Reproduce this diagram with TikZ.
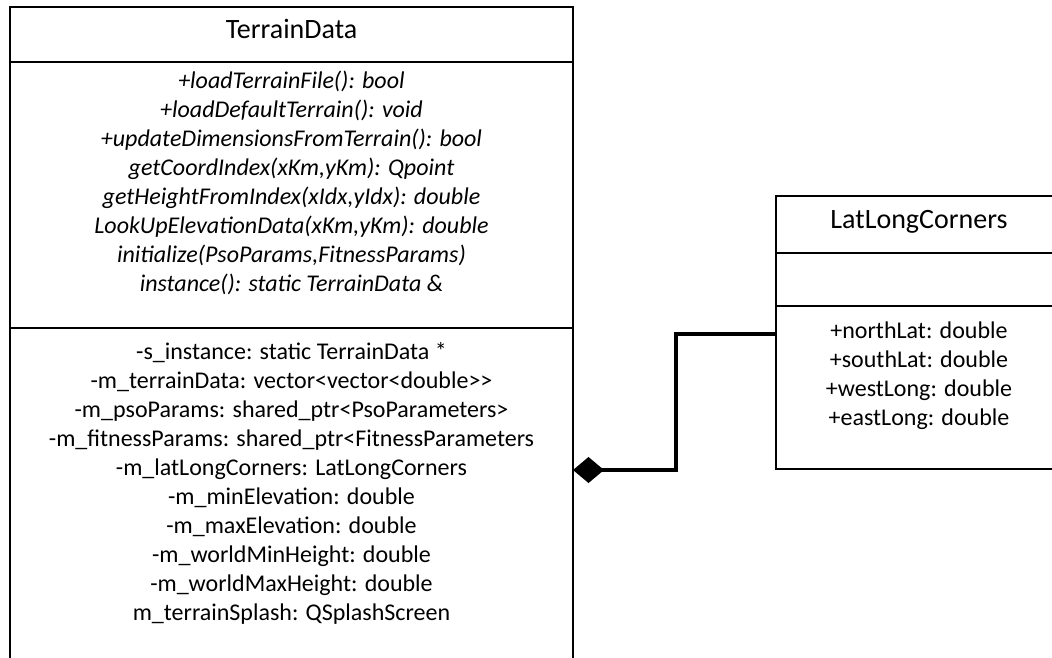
\documentclass[tikz,border=0pt]{standalone}
\usepackage{fontspec}
\setmainfont{Carlito}
\usetikzlibrary{positioning, arrows.meta}

\begin{document}
\begin{tikzpicture}[x=1pt, y=-1pt,
  every node/.style={inner sep=0pt, outer sep=0pt},
  part/.style={draw, line width=2.9pt, anchor=north west},
  title/.style={anchor=base, font=\fontsize{28}{29}\selectfont},
  members/.style={align=center, anchor=north, font=\fontsize{24}{29}\selectfont},
  ops/.style={members, font=\fontsize{24}{29}\selectfont\itshape},
  comp/.style={{Diamond[length=31pt, width=26pt]}-, line width=3.2pt}
]
\clip (0,0) rectangle (1052,657);
% TerrainData class
\node[part, minimum width=563pt, minimum height=55pt]  (tdHead) at (10,7) {};
\node[part, minimum width=563pt, minimum height=266pt] (tdOps)  at (tdHead.south west) {};
\node[part, minimum width=563pt, minimum height=400pt] (tdAttr) at (tdOps.south west) {};
\node[title] (tdName) at (291.5,38) {TerrainData};
\node[ops] (tdOpsText) at ([yshift=-9pt]tdOps.north) {%
  +loadTerrainFile(): bool\\
  +loadDefaultTerrain(): void\\
  +updateDimensionsFromTerrain(): bool\\
  getCoordIndex(xKm,yKm): Qpoint\\
  getHeightFromIndex(xIdx,yIdx): double\\
  LookUpElevationData(xKm,yKm): double\\
  initialize(PsoParams,FitnessParams)\\
  instance(): static TerrainData \&};
\node[members] (tdAttrText) at ([yshift=-14pt]tdAttr.north) {%
  -s\_instance: static TerrainData *\\
  -m\_terrainData: vector<vector<double>{}>\\
  -m\_psoParams: shared\_ptr<PsoParameters>\\
  -m\_fitnessParams: shared\_ptr<FitnessParameters\\
  -m\_latLongCorners: LatLongCorners\\
  -m\_minElevation: double\\
  -m\_maxElevation: double\\
  -m\_worldMinHeight: double\\
  -m\_worldMaxHeight: double\\
  m\_terrainSplash: QSplashScreen};
% LatLongCorners class
\node[part, minimum width=286pt, minimum height=57pt]  (llHead)  at (776,196) {};
\node[part, minimum width=286pt, minimum height=53pt]  (llEmpty) at (llHead.south west) {};
\node[part, minimum width=286pt, minimum height=163pt] (llAttr)  at (llEmpty.south west) {};
\node[title] (llName) at (919,228) {LatLongCorners};
\node[members] (llAttrText) at ([yshift=-16pt]llAttr.north) {%
  +northLat: double\\
  +southLat: double\\
  +westLong: double\\
  +eastLong: double};
% composition
\coordinate (bend) at (676,334);
\draw[comp] ([yshift=-142pt]tdAttr.north east) -| (bend) -- ([yshift=-28pt]llAttr.north west);
\end{tikzpicture}
\end{document}
